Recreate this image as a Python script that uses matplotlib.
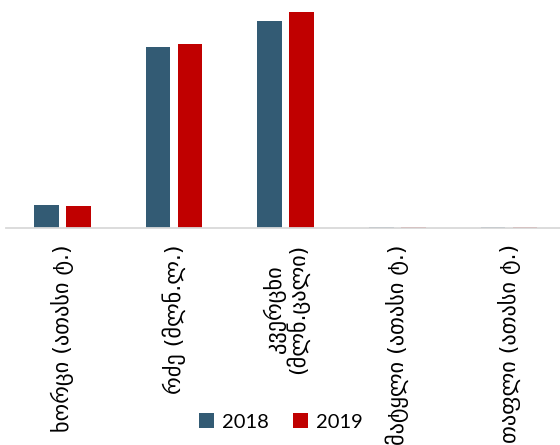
import numpy as np
import matplotlib
matplotlib.use("Agg")
import matplotlib.pyplot as plt

categories = ["ხორცი (ათასი ტ.)", "რძე (მლნ.ლ.)", "კვერცხი\n(მლნ.ცალი)",
              "მატყლი (ათასი ტ.)", "თაფლი (ათასი ტ.)"]
years = ["2018", "2019"]
vals_2018 = [71.5, 568, 649, 0.5, 1.2]
vals_2019 = [69.0, 575, 676, 0.5, 1.3]
colors = ["#335b74", "#c00000"]

fig = plt.figure(figsize=(5.6, 4.45), dpi=100)
ax = fig.add_axes([6.45 / 560, 217.5 / 445, 558.5 / 560, 217.5 / 445])

x = np.arange(len(categories))
w = 0.221
off = 0.143
ax.bar(x - off, vals_2018, w, color=colors[0], label=years[0])
ax.bar(x + off, vals_2019, w, color=colors[1], label=years[1])

ax.set_xlim(-0.5, len(categories) - 0.5)
ax.set_ylim(0, 683)
for s in ["top", "right", "left"]:
    ax.spines[s].set_visible(False)
ax.spines["bottom"].set_color("#d9d9d9")
ax.spines["bottom"].set_linewidth(1.3)
ax.set_yticks([])
ax.set_xticks(x)
ax.set_xticklabels(categories, rotation=90, ha="center", va="top",
                   multialignment="center", fontsize=16, family="DejaVu Sans",
                   color="#000000", linespacing=1.0)
ax.tick_params(axis="x", length=0, pad=12)

fig.legend(loc="center", bbox_to_anchor=(281 / 560, 1 - 422 / 445), ncol=2,
           frameon=False, prop={"family": "Lato", "size": 14.5},
           handlelength=0.75, handleheight=0.75, handletextpad=0.4,
           columnspacing=1.2)

fig.savefig("out.png", dpi=100)
